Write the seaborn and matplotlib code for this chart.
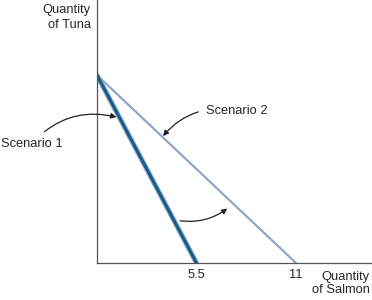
import matplotlib
matplotlib.use("Agg")
import matplotlib.pyplot as plt
import seaborn as sns
import pandas as pd

# Data
scenarios = ["Scenario 1", "Scenario 2"]
salmon_max = [5.5, 11]
tuna_max = [10, 10]
xtick_values = [5.5, 11]
xtick_labels = ["5.5", "11"]

sns.set_theme(style="white")
plt.rcParams['font.family'] = ['Liberation Sans', 'DejaVu Sans']

FS = 9.3

rows = []
for s, xm, ym in zip(scenarios, salmon_max, tuna_max):
    rows.append({"scenario": s, "salmon": 0, "tuna": ym})
    rows.append({"scenario": s, "salmon": xm, "tuna": 0})
df = pd.DataFrame(rows)

fig = plt.figure(figsize=(3.72, 3.0), dpi=100)
ax = fig.add_axes([97/372, 37/300, 1 - 97/372, 263/300])

d1 = df[df.scenario == "Scenario 1"]
sns.lineplot(data=d1, x="salmon", y="tuna", sort=False, color="#8fb3cf",
             linewidth=3.8, ax=ax, legend=False, estimator=None)
sns.lineplot(data=df[df.scenario == "Scenario 2"], x="salmon", y="tuna", sort=False,
             color="#8ea6c9", linewidth=1.6, ax=ax, legend=False, estimator=None)
sns.lineplot(data=d1, x="salmon", y="tuna", sort=False, color="#1a5a85",
             linewidth=2.2, ax=ax, legend=False, estimator=None)

ax.set_xlim(0, 15.2)
ax.set_ylim(0, 14)
ax.set_xticks(xtick_values)
ax.set_xticklabels(xtick_labels, fontsize=FS)
ax.set_yticks([])
ax.tick_params(axis="x", length=0, pad=4)
ax.set_xlabel("")
ax.set_ylabel("")
for sp in ["top", "right"]:
    ax.spines[sp].set_visible(False)
for sp in ["left", "bottom"]:
    ax.spines[sp].set_color("#555555")
    ax.spines[sp].set_linewidth(0.9)

ax.text(1 - 2/275, -0.03, "Quantity\nof Salmon", transform=ax.transAxes, ha="right", va="top",
        fontsize=FS, linespacing=1.15)
ax.text(-0.022, 1 - 4/263, "Quantity\nof Tuna", transform=ax.transAxes, ha="right", va="top",
        fontsize=FS, linespacing=1.3)

arrow = dict(arrowstyle="-|>", color="#222222", lw=0.9, mutation_scale=8)
ax.annotate("Scenario 1", xy=(1.15, 7.75), xytext=(-1.9, 6.35), fontsize=FS,
            ha="right", va="center", annotation_clip=False,
            arrowprops=dict(**arrow, connectionstyle="arc3,rad=-0.3",
                            shrinkA=3, shrinkB=1))
ax.annotate("Scenario 2", xy=(3.6, 6.7), xytext=(6.0, 8.1), fontsize=FS,
            ha="left", va="center", annotation_clip=False,
            arrowprops=dict(**arrow, connectionstyle="arc3,rad=0.3",
                            shrinkA=3, shrinkB=1))
ax.annotate("", xy=(7.2, 2.9), xytext=(4.6, 2.25),
            arrowprops=dict(**arrow, connectionstyle="arc3,rad=0.2",
                            shrinkA=0, shrinkB=0))

fig.savefig("out.png", dpi=100)
